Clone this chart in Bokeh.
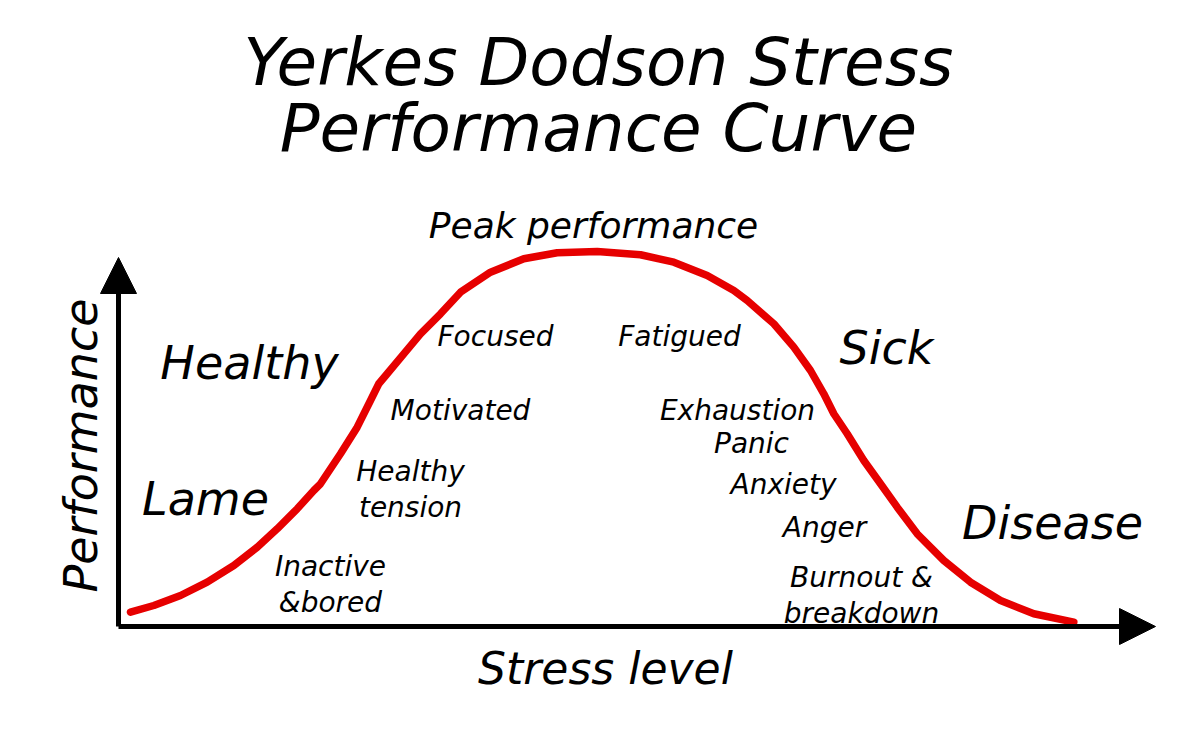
import math
from bokeh.plotting import figure
from bokeh.models import Range1d, Arrow, NormalHead
from bokeh.core.properties import value
from bokeh.embed import file_html
from bokeh.resources import INLINE

# Yerkes-Dodson curve: stress level (x) vs performance (y), both on a 0-100 scale
stress = [1.2, 3.53, 6.2, 8.87, 11.53, 13.87, 15.87, 17.87, 19.53, 20.2, 22.2,
          23.87, 25.2, 26.03, 26.87, 28.53, 30.2, 32.2, 34.2, 37.2, 40.53,
          43.87, 47.87, 52.2, 55.53, 58.87, 61.53, 62.87, 65.53, 67.53, 69.2,
          70.53, 71.53, 72.87, 74.53, 76.2, 77.87, 79.87, 82.53, 85.2, 88.2,
          91.53, 95.53]
performance = [3.58, 5.25, 7.75, 11.08, 15.25, 19.83, 24.43, 29.43, 34.0,
               35.68, 43.18, 49.83, 56.5, 60.68, 63.18, 68.18, 73.18, 78.18,
               83.58, 88.58, 91.93, 93.43, 93.75, 92.93, 91.08, 87.75, 84.0,
               81.5, 75.68, 69.83, 64.0, 58.18, 53.18, 48.18, 41.5, 35.68,
               29.83, 23.18, 16.5, 11.08, 6.5, 3.18, 1.08]

# Zone names
zone_labels = ["Healthy", "Lame", "Sick", "Disease"]
zone_x = [13.1, 8.7, 76.8, 93.4]
zone_y = [66.0, 32.0, 69.75, 26.0]

# States along the curve
state_labels = ["Focused", "Fatigued", "Motivated", "Exhaustion", "Panic",
                "Anxiety", "Anger", "Healthy\ntension", "Inactive\n&bored",
                "Burnout &\nbreakdown"]
state_x = [37.7, 56.1, 34.2, 61.9, 63.3, 66.5, 70.6, 29.2, 21.2, 74.3]
state_y = [72.5, 72.5, 54.0, 54.0, 45.75, 35.5, 24.75, 34.25, 10.5, 7.75]

title_lines = ["Yerkes Dodson Stress", "Performance Curve"]

FONT = value("DejaVu Sans")

p = figure(width=1200, height=736, output_backend="svg", toolbar_location=None,
           x_range=Range1d(-11.8, 108.2), y_range=Range1d(-27.5, 156.5),
           min_border=0)
p.axis.visible = False
p.grid.visible = False
p.outline_line_color = None
p.background_fill_color = "white"
p.border_fill_color = "white"

# axes drawn as arrows from the origin
p.add_layout(Arrow(x_start=0, y_start=0, x_end=0, y_end=92.25,
                   line_width=5, line_color="black",
                   end=NormalHead(size=36, fill_color="black", line_color="black", line_width=1)))
p.add_layout(Arrow(x_start=0, y_start=0, x_end=103.7, y_end=0,
                   line_width=5, line_color="black",
                   end=NormalHead(size=36, fill_color="black", line_color="black", line_width=1)))

# the curve
p.line(stress, performance, line_color="#e60000", line_width=7.5,
       line_join="round", line_cap="round")

# title
p.text(x=[48.0, 48.0], y=[141.0, 124.5], text=title_lines, text_font=FONT,
       text_font_style="italic", text_font_size="66px", text_align="center",
       text_baseline="middle", text_color="black")

# peak label
p.text(x=[47.5], y=[100.25], text=["Peak performance"], text_font=FONT,
       text_font_style="italic", text_font_size="36px", text_align="center",
       text_baseline="middle", text_color="black")

# zone labels
p.text(x=zone_x, y=zone_y, text=zone_labels, text_font=FONT,
       text_font_style="italic", text_font_size="46px", text_align="center",
       text_baseline="middle", text_color="black")

# states
p.text(x=state_x, y=state_y, text=state_labels, text_font=FONT,
       text_font_style="italic", text_font_size="28px", text_align="center",
       text_baseline="middle", text_color="black", text_line_height=1.12)

# axis titles
p.text(x=[48.7], y=[-10.5], text=["Stress level"], text_font=FONT,
       text_font_style="italic", text_font_size="44px", text_align="center",
       text_baseline="middle", text_color="black")
p.text(x=[-3.8], y=[45.25], text=["Performance"], text_font=FONT,
       text_font_style="italic", text_font_size="46px", text_align="center",
       text_baseline="middle", text_color="black", angle=math.pi / 2)

open("out.html", "w").write(file_html(p, INLINE))
